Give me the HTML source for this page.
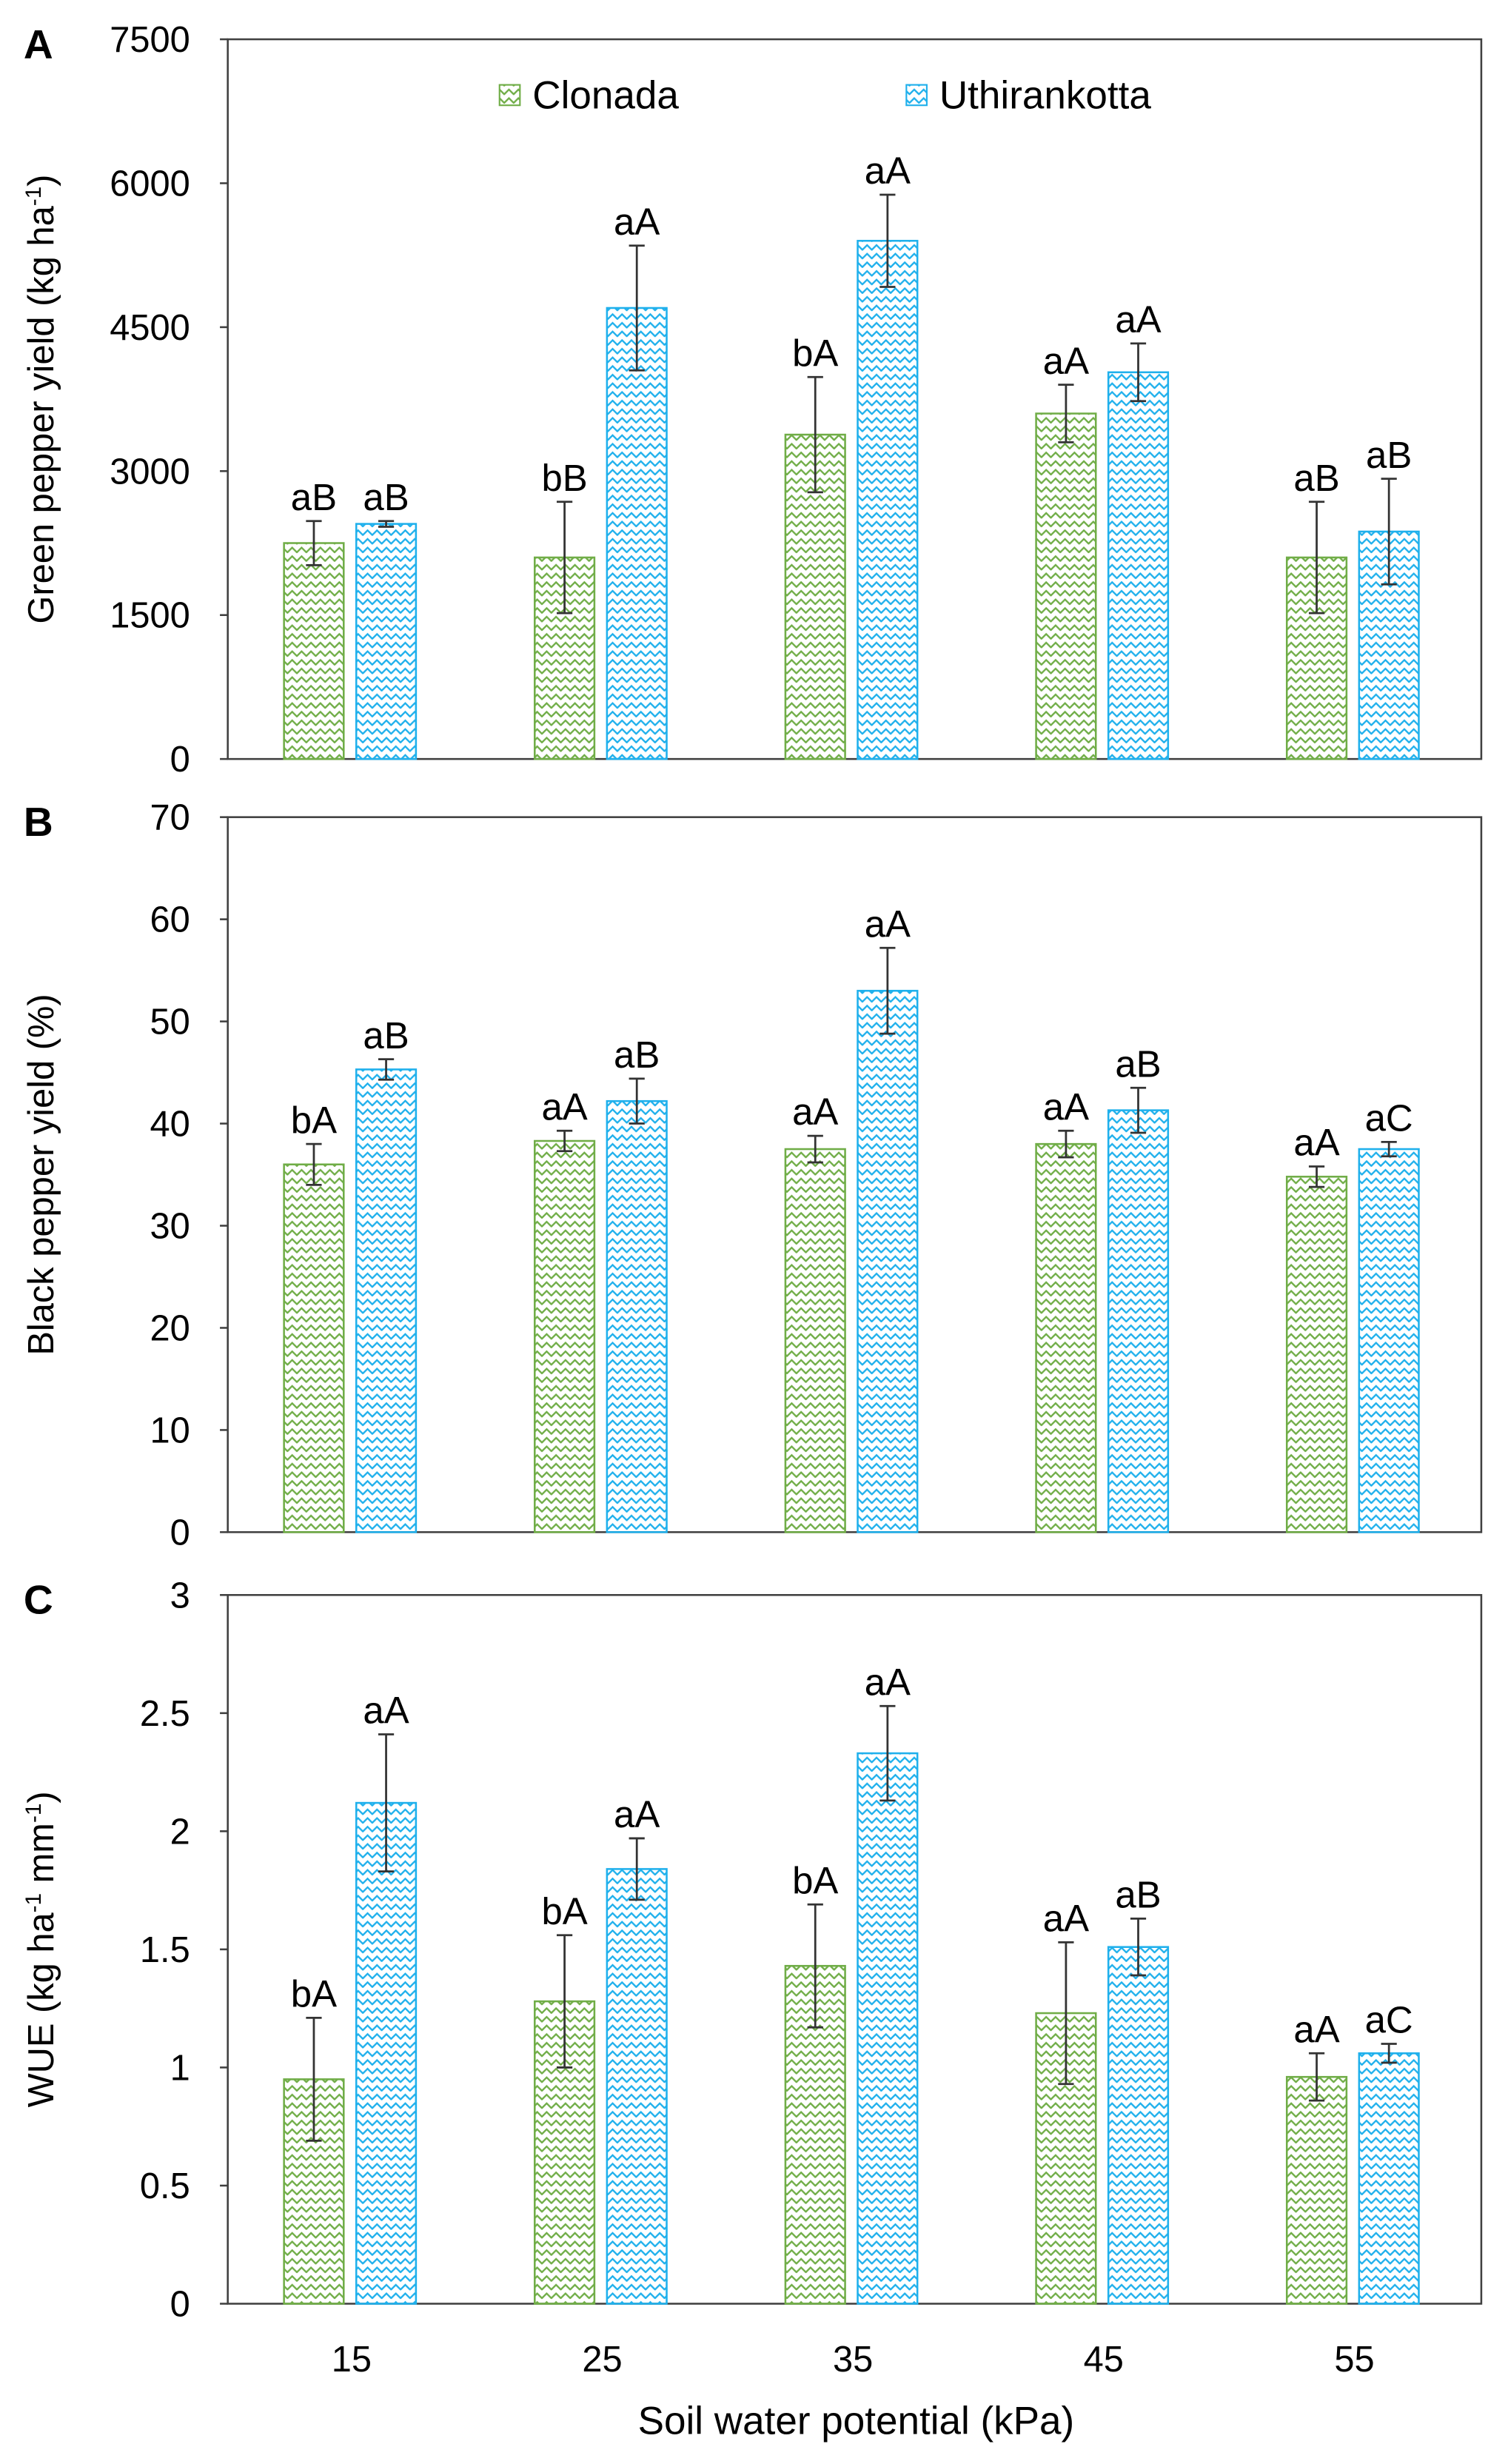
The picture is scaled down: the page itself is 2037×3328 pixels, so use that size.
<!DOCTYPE html>
<html><head><meta charset="utf-8"><style>
html,body{margin:0;padding:0;background:#fff}
svg{display:block}
text{font-family:"Liberation Sans",Arial,sans-serif;fill:#000}
</style></head><body>
<svg id="fig" width="2037" height="3328" viewBox="0 0 960 1568" preserveAspectRatio="none" xmlns="http://www.w3.org/2000/svg">
<defs>
<pattern id="pg" patternUnits="userSpaceOnUse" width="6" height="5.5"><path d="M-1.5,3.5 L0,2 L3,5 L6,2 L7.5,3.5" fill="none" stroke="#70ad47" stroke-width="1.1"/></pattern>
<pattern id="pb" patternUnits="userSpaceOnUse" width="6" height="5.5"><path d="M-1.5,3.5 L0,2 L3,5 L6,2 L7.5,3.5" fill="none" stroke="#1fb0ec" stroke-width="1.1"/></pattern>
</defs>
</svg>
<script>
const categories=["15","25","35","45","55"];
const aTicks=["0","1500","3000","4500","6000","7500"];
const aClon=[2250,2100,3380,3600,2100];
const aClonErr=[230,580,600,300,580];
const aUth=[2450,4700,5400,4030,2370];
const aUthErr=[30,650,480,300,550];
const aClonLab=["aB","bB","bA","aA","aB"];
const aUthLab=["aB","aA","aA","aA","aB"];
const bTicks=["0","10","20","30","40","50","60","70"];
const bClon=[36,38.3,37.5,38,34.8];
const bClonErr=[2,1,1.3,1.3,1];
const bUth=[45.3,42.2,53,41.3,37.5];
const bUthErr=[1,2.2,4.2,2.2,0.7];
const bClonLab=["bA","aA","aA","aA","aA"];
const bUthLab=["aB","aB","aA","aB","aC"];
const cTicks=["0","0.5","1","1.5","2","2.5","3"];
const cClon=[0.95,1.28,1.43,1.23,0.96];
const cClonErr=[0.26,0.28,0.26,0.3,0.1];
const cUth=[2.12,1.84,2.33,1.51,1.06];
const cUthErr=[0.29,0.13,0.2,0.12,0.04];
const cClonLab=["bA","bA","bA","aA","aA"];
const cUthLab=["aA","aA","aA","aB","aC"];

const svg=document.getElementById('fig');
const NS="http://www.w3.org/2000/svg";
function mk(tag,attrs,parent){const e=document.createElementNS(NS,tag);for(const k in attrs)e.setAttribute(k,attrs[k]);(parent||svg).appendChild(e);return e;}
const L=145,R=943;
function panel(id,letter,top,bot,ticks,clon,clonErr,uth,uthErr,clonLab,uthLab,ytitle){
  const g=mk('g',{});
  
  
  const max=parseFloat(ticks[ticks.length-1]);
  const y=v=>bot-(v/max)*(bot-top);
  const cw=(R-L)/categories.length;
  const xc=i=>L+cw*(i+0.5)-1;
  const pl=mk('rect',{x:L,y:top,width:R-L,height:bot-top,fill:'none',stroke:'#404040','stroke-width':1.2},g);
  
  
  ticks.forEach(t=>{
    const yy=y(parseFloat(t));
    mk('line',{x1:L-5,x2:L,y1:yy,y2:yy,stroke:'#404040','stroke-width':1.2},g);
    const tx=mk('text',{x:L-24,y:yy+8,'text-anchor':'end','font-size':23},g);
    tx.textContent=t;
    
    
  });
  const lt=mk('text',{x:15,y:top+12,'font-size':26,'font-weight':'bold'},g);
  lt.textContent=letter;
  
  
  const cy=(top+bot)/2;
  const yt=mk('text',{x:34,y:cy,'text-anchor':'middle','font-size':23,transform:'rotate(-90 34 '+cy+')'},g);
  yt.innerHTML=ytitle;
  
  
  categories.forEach((c,i)=>{
    const series=[[clon[i],clonErr[i],clonLab[i],xc(i)-43,'url(#pg)','#70ad47','clonada'],[uth[i],uthErr[i],uthLab[i],xc(i)+3,'url(#pb)','#1fb0ec','uthirankotta']];
    series.forEach(s=>{
      const [v,e,lab,x0,fill,col,nm]=s;
      const b=mk('rect',{x:x0,y:y(v),width:38,height:bot-y(v),fill:fill,stroke:col,'stroke-width':1.2},g);
      
      
      const cx=x0+19;
      const eg=mk('g',{stroke:'#333','stroke-width':1.3},g);
      
      
      mk('line',{x1:cx,x2:cx,y1:y(v+e),y2:y(v-e)},eg);
      mk('line',{x1:cx-5,x2:cx+5,y1:y(v+e),y2:y(v+e)},eg);
      mk('line',{x1:cx-5,x2:cx+5,y1:y(v-e),y2:y(v-e)},eg);
      const lt2=mk('text',{x:cx,y:y(v+e)-7,'text-anchor':'middle','font-size':24},g);
      lt2.textContent=lab;
      
      
    });
  });
  return {xc,bot};
}
panel('a','A',25,483,aTicks,aClon,aClonErr,aUth,aUthErr,aClonLab,aUthLab,'Green pepper yield  (kg ha<tspan dy="-8" font-size="14">-1</tspan><tspan dy="8">)</tspan>');
panel('b','B',520,975,bTicks,bClon,bClonErr,bUth,bUthErr,bClonLab,bUthLab,'Black pepper yield (%)');
const pc=panel('c','C',1015,1466,cTicks,cClon,cClonErr,cUth,cUthErr,cClonLab,cUthLab,'WUE (kg ha<tspan dy="-8" font-size="14">-1</tspan><tspan dy="8"> mm</tspan><tspan dy="-8" font-size="14">-1</tspan><tspan dy="8">)</tspan>');
categories.forEach((c,i)=>{
  const t=mk('text',{x:pc.xc(i),y:1509,'text-anchor':'middle','font-size':23});
  t.textContent=c;
  
  
});
const xt=mk('text',{x:545,y:1549,'text-anchor':'middle','font-size':25});
xt.textContent='Soil water potential (kPa)';


// legend
const lg=mk('g',{});


const l1=mk('rect',{x:318,y:54,width:13,height:13,fill:'url(#pg)',stroke:'#70ad47'},lg);


const l1t=mk('text',{x:339,y:69,'font-size':25},lg);
l1t.textContent='Clonada';


const l2=mk('rect',{x:577,y:54,width:13,height:13,fill:'url(#pb)',stroke:'#1fb0ec'},lg);


const l2t=mk('text',{x:598,y:69,'font-size':25},lg);
l2t.textContent='Uthirankotta';


</script>
</body></html>
